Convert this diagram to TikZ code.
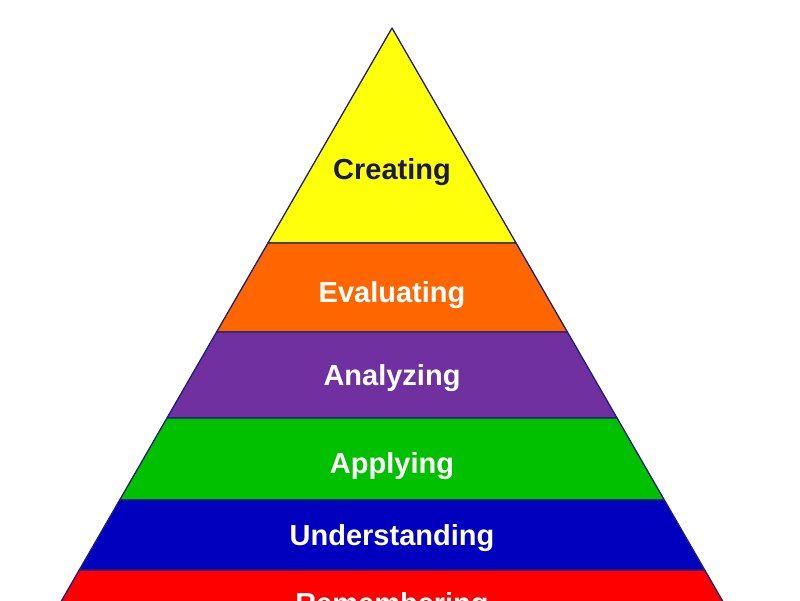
\documentclass[tikz,border=0pt]{standalone}
\usepackage{fontspec}
\setmainfont{Liberation Sans}
\definecolor{cyellow}{RGB}{255,255,10}
\definecolor{corange}{RGB}{255,102,0}
\definecolor{cpurple}{RGB}{112,48,160}
\definecolor{cgreen}{RGB}{0,192,0}
\definecolor{cblue}{RGB}{0,0,190}
\definecolor{cred}{RGB}{255,0,0}
\definecolor{cedge}{RGB}{30,30,120}
\definecolor{cnavy}{RGB}{25,25,80}
\tikzset{level/.style={draw=cedge,line width=1.3pt},
  lab/.style={font=\fontsize{29}{34}\selectfont\bfseries,text=white}}
\begin{document}
\begin{tikzpicture}[x=1pt,y=-1pt,line join=round,line cap=round]
		\useasboundingbox (0,0) rectangle (800,600);
		\clip (0,0) rectangle (800,600);
		\foreach \ya/\yb/\c in {28/243/cyellow,243/332/corange,332/418/cpurple,418/500/cgreen,500/570/cblue,570/650/cred}
			\filldraw[level,fill=\c] ({392-0.577*(\ya-28)},\ya)--({392+0.577*(\ya-28)},\ya)--({392+0.577*(\yb-28)},\yb)--({392-0.577*(\yb-28)},\yb)--cycle;
		\node[lab,text=cnavy] (creating) at (392,172) {Creating};
		\foreach \n/\y/\t in {evaluating/295/Evaluating,analyzing/378/Analyzing,applying/466/Applying,understanding/538/Understanding,remembering/606/Remembering}
			\node[lab] (\n) at (392,\y) {\t};
	\end{tikzpicture}
\end{document}
